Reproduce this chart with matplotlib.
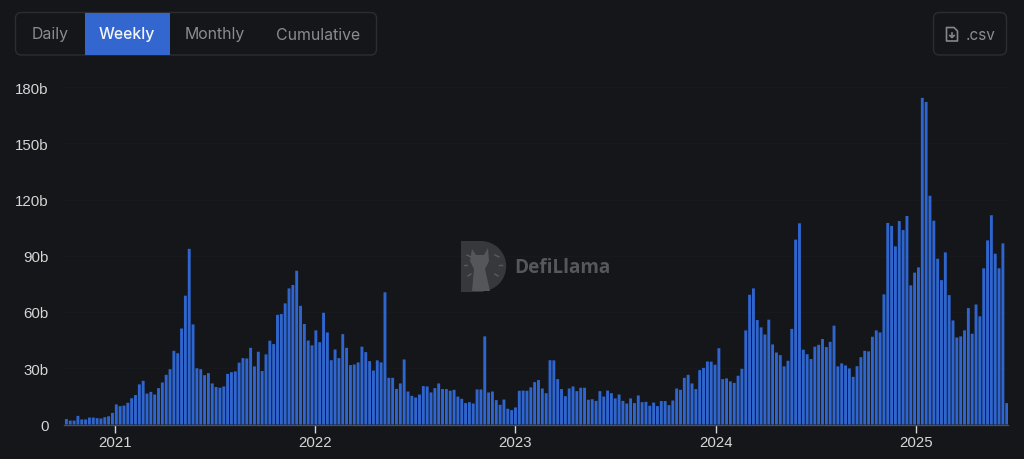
import numpy as np
import pandas as pd
import matplotlib
matplotlib.use("Agg")
import matplotlib.pyplot as plt
import matplotlib.dates as mdates
from matplotlib.patches import FancyBboxPatch, Rectangle, Polygon, Wedge

# weekly volume in billions
values = [
    2.9, 2.1, 2.1, 4.6, 2.7, 2.7, 3.7, 3.7, 3.4, 3.2, 3.9, 4.4, 6.2, 10.7, 9.8, 10.1,
    11.6, 14, 15.7, 21.4, 23.3, 16.5, 17.4, 16, 19.4, 22.4, 26.5, 29.5, 39.3, 38, 51.2, 68.7,
    93.7, 53.4, 30, 29.5, 26.3, 27.4, 21.9, 20, 19.6, 20.3, 27, 27.9, 28.3, 33, 35.4, 35.2,
    40.9, 31, 38.8, 28.5, 37.4, 44.7, 42.9, 58.5, 58.9, 64.6, 72.6, 74.4, 82, 63.3, 53.6, 44.8,
    42.2, 50.2, 43.9, 59.6, 49.1, 34.3, 40, 35.4,
    48.2, 40.9, 31.7, 32, 33.1, 41.5, 38.6, 33.8, 28.8, 34.2, 33.1, 70.5, 24.9, 24.9, 19, 21.9,
    34.7, 17.6, 15.3, 14.4, 16, 20.5, 20.3, 17.1, 19.4, 21.9, 18.9, 18.9, 18, 18.5, 14.9, 13.7,
    11.4, 11.9, 11.2, 18.7, 18.7, 47, 17.1, 17.6, 13, 10.5, 13.3, 8.4, 7.7, 9.1, 18, 18.1,
    18, 19.8, 22.6, 23.7, 19.2, 16.7, 34.3, 34.2, 24.2, 18.9, 15.1, 19.2, 20.3, 17.8, 19.6, 19.6,
    13.2, 13.5, 12.6, 17.8, 14.9, 18.1, 16.7, 13.9, 16, 12.6, 11.2, 13.9, 11.4, 15.5, 11.9, 12.1,
    10, 11.7, 9.8, 12.5, 12.5, 10.3, 12.8, 19.2,
    18.5, 24.9, 26.5, 21.9, 18.9, 29, 30.2, 33.6, 33.5, 31.9, 40.7, 24.2, 24.6, 23, 22.2, 26,
    29.7, 50.2, 69.2, 72.6, 55.7, 51.8, 48, 55.9, 42.7, 38.4, 37, 31, 34, 51, 98.6, 107.3,
    39.9, 37.5, 34.9, 41.5, 42.5, 45.6, 41.3, 44.1, 52.7, 31, 32.6, 31.5, 29.9, 25.4, 31.1, 35.9,
    39.3, 39, 46.8, 50.2, 49.1, 69.4, 107.5, 105.9, 95, 108.5, 103.7, 111.2, 74.2, 81, 83.8, 174.2,
    172, 122, 108.7, 88.4, 77, 91.8, 69, 55.5, 46.4, 47, 50.2, 62.1, 48.4, 64, 57.7, 83.3,
    98.2, 111.6, 91.1, 83.3, 96.6, 11.4,
]
dates = pd.date_range("2020-10-04", periods=len(values), freq="7D")

year_ticks = ["2021", "2022", "2023", "2024", "2025"]
y_ticks = [0, 30, 60, 90, 120, 150, 180]
y_labels = ["0", "30b", "60b", "90b", "120b", "150b", "180b"]
tabs = ["Daily", "Weekly", "Monthly", "Cumulative"]

BG = "#141619"
BLUE = "#2f65ce"
W, H = 1024, 460

fig = plt.figure(figsize=(W / 100, H / 100), dpi=100, facecolor=BG)

# eixo principal, posicionado em pixels
left, right, top, bottom = 64, 1008, 88, 425.5
ax = fig.add_axes([left / W, 1 - bottom / H, (right - left) / W, (bottom - top) / H], facecolor=BG)

d0 = mdates.date2num(pd.Timestamp("2021-01-01"))
px_per_day = 0.5483
ax.set_xlim(d0 - (115.2 - left) / px_per_day, d0 + (right - 115.2) / px_per_day)
ax.set_ylim(0, 180)

ax.bar(dates, values, width=5.3, color=BLUE, linewidth=0, zorder=3, snap=False)

ax.set_yticks(y_ticks)
ax.set_yticklabels(y_labels, fontfamily="Liberation Sans", fontsize=10.8, color="#d6d6d6")
ax.tick_params(axis="y", length=0, pad=11)
ax.set_xticks([pd.Timestamp(y + "-01-01") for y in year_ticks])
ax.set_xticklabels(year_ticks, fontfamily="Liberation Sans", fontsize=10.8, color="#d6d6d6")
ax.tick_params(axis="x", length=6, width=1, color="#d6d6d6", pad=1.5)
ax.grid(axis="y", color="#17191c", linewidth=0.8, zorder=0)
for s in ["top", "left", "right"]:
    ax.spines[s].set_visible(False)
ax.spines["bottom"].set_color("#4c4e52")
ax.spines["bottom"].set_linewidth(1)

# camada de cima em coordenadas de pixel (botoes e marca d'agua)
ui = fig.add_axes([0, 0, 1, 1], facecolor="none")
ui.set_xlim(0, W)
ui.set_ylim(H, 0)
ui.axis("off")


def rounded(x0, y0, x1, y1, r=6, **kw):
    ui.add_patch(FancyBboxPatch((x0 + r, y0 + r), x1 - x0 - 2 * r, y1 - y0 - 2 * r,
                                boxstyle="round,pad=%d,rounding_size=%d" % (r, r), **kw))


# botoes
rounded(15.5, 13.5, 376.5, 56, fc="none", ec="#2b2d31", lw=1)
ui.add_patch(Rectangle((84.5, 14), 85, 41.5, fc="#3466cf", ec="none"))
tab_x = [50, 127, 215, 318.5]
for name, x in zip(tabs, tab_x):
    c = "#f4f6fa" if name == "Weekly" else "#8a8c90"
    w = 500 if name == "Weekly" else 400
    ui.text(x, 35, name, ha="center", va="center", family="Inter", fontsize=11.4, color=c, fontweight=w)

rounded(933.5, 13.5, 1006.5, 56, fc="none", ec="#2b2d31", lw=1)
ui.text(980.5, 35, ".csv", ha="center", va="center", family="Inter", fontsize=11, color="#8a8c90")
# icone do arquivo
ui.add_patch(Polygon([(946.5, 28.5), (954, 28.5), (957.5, 32), (957.5, 42), (946.5, 42)],
                     closed=True, fc="none", ec="#85878b", lw=1.2, joinstyle="round"))
ui.plot([952, 952], [33.5, 38], color="#85878b", lw=1.2)
ui.plot([949.8, 952, 954.2], [36.5, 38.5, 36.5], color="#85878b", lw=1.2)

# marca d'agua DefiLlama
LOGO = "#37383b"
ui.add_patch(Rectangle((460.5, 242), 22, 50.5, fc=LOGO, ec="none"))
ui.add_patch(Wedge((481, 267.2), 25.2, -90, 90, fc=LOGO, ec="none"))
ui.add_patch(Polygon([(472, 250), (476, 256), (484, 256), (488, 249), (489, 262), (485, 270),
                      (490, 292), (472, 292), (474, 270), (470, 262)],
                     closed=True, fc="#55565a", ec="none"))
for p in [((467, 256), (471, 258)), ((495, 256), (499, 258)), ((499, 266), (502, 266)),
          ((464, 266), (467, 266)), ((468, 277), (471, 275)), ((495, 275), (498, 277))]:
    ui.plot([p[0][0], p[1][0]], [p[0][1], p[1][1]], color="#5a5b5d", lw=1)
ui.text(514, 268, "DefiLlama", ha="left", va="center", family="Open Sans", fontsize=13.6,
        fontweight="bold", color="#56575a")

fig.savefig("out.png", dpi=100, facecolor=BG)
